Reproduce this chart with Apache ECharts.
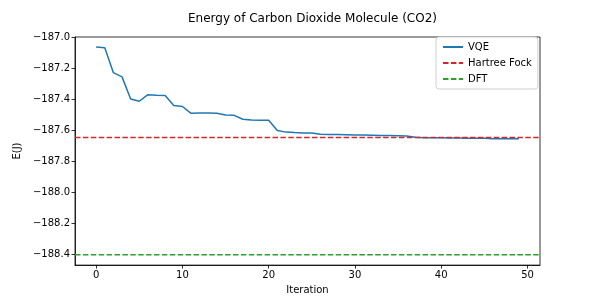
<!DOCTYPE html>
<html>
<head>
<meta charset="utf-8">
<script src="https://cdn.jsdelivr.net/npm/echarts@6/dist/echarts.min.js"></script>
<style>html,body{margin:0;padding:0;background:#fff}#c{width:600px;height:300px}</style>
</head>
<body>
<div id="c"></div>
<script>
const iterations = Array.from({length: 50}, (_, i) => i);
const vqeEnergy = [
  -187.065, -187.070, -187.230, -187.257, -187.400, -187.414, -187.372, -187.375, -187.377, -187.442,
  -187.448, -187.492, -187.490, -187.490, -187.491, -187.503, -187.505, -187.530, -187.535, -187.537,
  -187.537, -187.603, -187.613, -187.616, -187.618, -187.619, -187.627, -187.628, -187.629, -187.630,
  -187.631, -187.632, -187.633, -187.634, -187.635, -187.636, -187.638, -187.646, -187.649, -187.650,
  -187.650, -187.651, -187.651, -187.652, -187.652, -187.653, -187.655, -187.655, -187.656, -187.656
];
const hartreeFock = -187.648;
const dft = -188.403;
const xTicks = [0, 10, 20, 30, 40, 50];
const yTicks = [-187.0, -187.2, -187.4, -187.6, -187.8, -188.0, -188.2, -188.4];
const xRange = [-2.45, 51.45];
const yRange = [-188.47, -187.0];

const font = 'DejaVu Sans';
const chart = echarts.init(document.getElementById('c'), null, {renderer: 'canvas'});
const fmtY = v => v.toFixed(1).replace('-', '\u2212');

chart.setOption({
  animation: false,
  backgroundColor: '#fff',
  title: {
    text: 'Energy of Carbon Dioxide Molecule (CO2)',
    left: 307.5, top: 8, textAlign: 'center',
    textStyle: {fontFamily: font, fontSize: 12, fontWeight: 'normal', color: '#000'}
  },
  legend: {
    left: 436, top: 37, orient: 'vertical',
    itemWidth: 20, itemHeight: 10, itemGap: 6,
    padding: [5, 6, 5, 6],
    borderColor: '#d0d0d0', borderWidth: 1, borderRadius: 3, backgroundColor: '#fff',
    itemStyle: {opacity: 0},
    textStyle: {fontFamily: font, fontSize: 10, color: '#000'},
    data: ['VQE', 'Hartree Fock', 'DFT']
  },
  grid: {left: 75, right: 60, top: 37, bottom: 33.3, show: true, borderColor: '#000', borderWidth: 0.8, backgroundColor: 'transparent'},
  xAxis: {
    type: 'value', min: xRange[0], max: xRange[1],
    name: 'Iteration', nameLocation: 'middle', nameGap: 18,
    nameTextStyle: {fontFamily: font, fontSize: 10, color: '#000'},
    axisLine: {show: true, onZero: false, lineStyle: {color: '#000', width: 0.8}},
    axisTick: {show: true, length: 3.5, customValues: xTicks, lineStyle: {color: '#000', width: 0.8}},
    axisLabel: {customValues: xTicks, fontFamily: font, fontSize: 10, color: '#000', margin: 5},
    splitLine: {show: false}
  },
  yAxis: {
    type: 'value', min: yRange[0], max: yRange[1],
    name: 'E(J)', nameLocation: 'middle', nameGap: 43, nameRotate: 90,
    nameTextStyle: {fontFamily: font, fontSize: 10, color: '#000'},
    axisLine: {show: true, onZero: false, lineStyle: {color: '#000', width: 0.8}},
    axisTick: {show: true, length: 3.5, customValues: yTicks, lineStyle: {color: '#000', width: 0.8}},
    axisLabel: {customValues: yTicks, formatter: fmtY, fontFamily: font, fontSize: 10, color: '#000', margin: 5},
    splitLine: {show: false}
  },
  series: [
    {
      name: 'VQE', type: 'line', symbol: 'none', silent: true,
      data: iterations.map((x, i) => [x, vqeEnergy[i]]),
      lineStyle: {color: '#1f77b4', width: 1.5}, itemStyle: {color: '#1f77b4'}
    },
    {
      name: 'Hartree Fock', type: 'line', symbol: 'none', silent: true,
      data: [[xRange[0], hartreeFock], [xRange[1], hartreeFock]],
      lineStyle: {color: '#d62728', width: 1.5, type: [5.5, 2.4]}, itemStyle: {color: '#d62728'}
    },
    {
      name: 'DFT', type: 'line', symbol: 'none', silent: true,
      data: [[xRange[0], dft], [xRange[1], dft]],
      lineStyle: {color: '#2ca02c', width: 1.5, type: [5.5, 2.4]}, itemStyle: {color: '#2ca02c'}
    }
  ]
});
</script>
</body>
</html>
